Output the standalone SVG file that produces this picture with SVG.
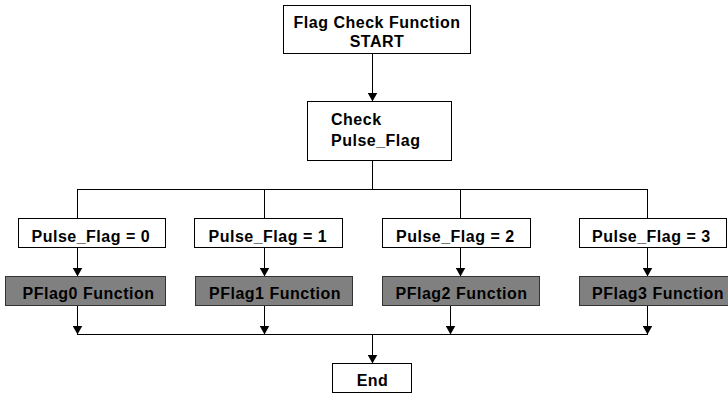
<svg xmlns="http://www.w3.org/2000/svg" width="728" height="394" viewBox="0 0 728 394">
  <style>
    .box { fill: #ffffff; stroke: #000000; stroke-width: 1; }
    .task { fill: #808080; stroke: #333333; stroke-width: 1; }
    .lbl { font-family: "Liberation Sans", Arial, sans-serif; font-size: 16px; font-weight: bold; letter-spacing: 0.5px; fill: #000000; }
    .wire { fill: none; stroke: #000000; stroke-width: 1; }
  </style>
  <defs>
    <marker id="arrow" markerUnits="userSpaceOnUse" markerWidth="10" markerHeight="10" refX="9" refY="5" orient="auto">
      <path d="M0,0 L9,5 L0,10 Z" fill="#000000"/>
    </marker>
  </defs>
  <rect width="728" height="394" fill="#ffffff"/>

  <g id="connectors">
    <line class="wire" x1="372.5" y1="54" x2="372.5" y2="101.5" marker-end="url(#arrow)"/>
    <line class="wire" x1="372.5" y1="161" x2="372.5" y2="189.5"/>
    <line class="wire" x1="77" y1="189.5" x2="648" y2="189.5"/>
    <line class="wire" x1="77.5" y1="189.5" x2="77.5" y2="218.5"/>
    <line class="wire" x1="264.5" y1="189.5" x2="264.5" y2="218.5"/>
    <line class="wire" x1="460.5" y1="189.5" x2="460.5" y2="218.5"/>
    <line class="wire" x1="647.5" y1="189.5" x2="647.5" y2="218.5"/>
    <line class="wire" x1="77.5" y1="248" x2="77.5" y2="276.5" marker-end="url(#arrow)"/>
    <line class="wire" x1="264.5" y1="248" x2="264.5" y2="276.5" marker-end="url(#arrow)"/>
    <line class="wire" x1="460.5" y1="248" x2="460.5" y2="276.5" marker-end="url(#arrow)"/>
    <line class="wire" x1="647.5" y1="248" x2="647.5" y2="276.5" marker-end="url(#arrow)"/>
    <line class="wire" x1="77.5" y1="306" x2="77.5" y2="334.5" marker-end="url(#arrow)"/>
    <line class="wire" x1="264.5" y1="306" x2="264.5" y2="334.5" marker-end="url(#arrow)"/>
    <line class="wire" x1="450.5" y1="306" x2="450.5" y2="334.5" marker-end="url(#arrow)"/>
    <line class="wire" x1="647.5" y1="306" x2="647.5" y2="334.5" marker-end="url(#arrow)"/>
    <line class="wire" x1="77" y1="334.5" x2="648" y2="334.5"/>
    <line class="wire" x1="372.5" y1="334.5" x2="372.5" y2="363.5" marker-end="url(#arrow)"/>
  </g>

  <g id="start">
    <rect class="box" x="283.5" y="5.5" width="187" height="48"/>
    <text class="lbl" x="377" y="28" text-anchor="middle">Flag Check Function</text>
    <text class="lbl" x="377" y="47" text-anchor="middle">START</text>
  </g>

  <g id="check">
    <rect class="box" x="307.5" y="101.5" width="144" height="59"/>
    <text class="lbl" x="331" y="125">Check</text>
    <text class="lbl" x="331" y="146">Pulse_Flag</text>
  </g>

  <g id="case0">
    <rect class="box" x="18.5" y="218.5" width="147" height="29"/>
    <text class="lbl" x="31.5" y="242">Pulse_Flag = 0</text>
  </g>
  <g id="case1">
    <rect class="box" x="194.5" y="218.5" width="148" height="29"/>
    <text class="lbl" x="208.5" y="242">Pulse_Flag = 1</text>
  </g>
  <g id="case2">
    <rect class="box" x="382.5" y="218.5" width="148" height="29"/>
    <text class="lbl" x="396" y="242">Pulse_Flag = 2</text>
  </g>
  <g id="case3">
    <rect class="box" x="579.5" y="218.5" width="147" height="29"/>
    <text class="lbl" x="592" y="242">Pulse_Flag = 3</text>
  </g>

  <g id="pflag0">
    <rect class="task" x="5.5" y="276.5" width="160" height="29"/>
    <text class="lbl" x="22.5" y="299">PFlag0 Function</text>
  </g>
  <g id="pflag1">
    <rect class="task" x="195.5" y="276.5" width="157" height="29"/>
    <text class="lbl" x="209" y="299">PFlag1 Function</text>
  </g>
  <g id="pflag2">
    <rect class="task" x="382.5" y="276.5" width="157" height="29"/>
    <text class="lbl" x="395.5" y="299">PFlag2 Function</text>
  </g>
  <g id="pflag3">
    <rect class="task" x="579.5" y="276.5" width="160" height="29"/>
    <text class="lbl" x="592" y="299">PFlag3 Function</text>
  </g>

  <g id="end">
    <rect class="box" x="332.5" y="363.5" width="79" height="29"/>
    <text class="lbl" x="372.5" y="386" text-anchor="middle">End</text>
  </g>
</svg>
